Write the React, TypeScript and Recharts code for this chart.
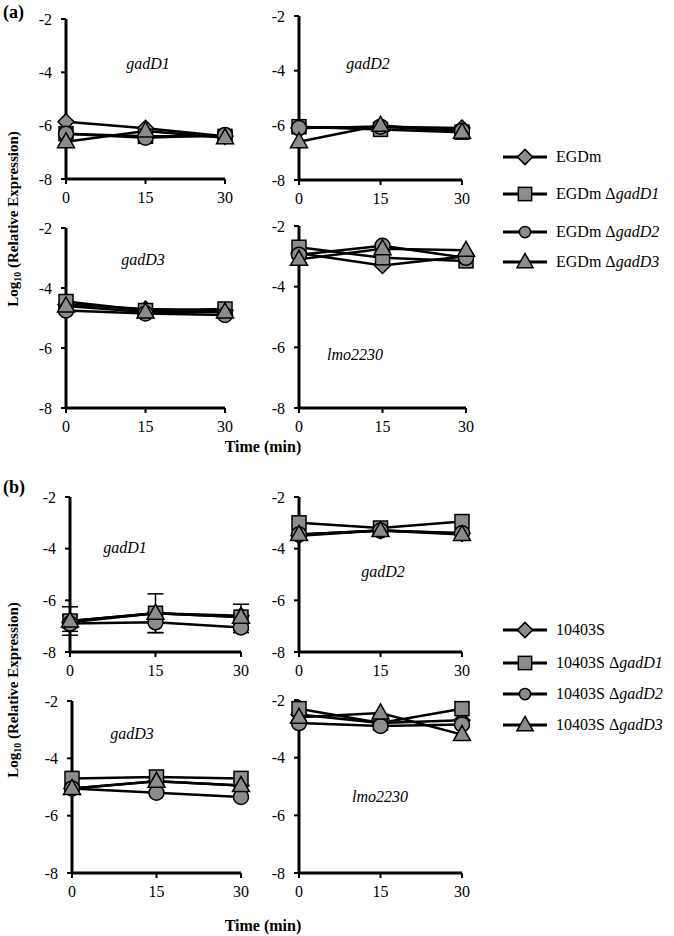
import React from "react";
import { LineChart, Line, XAxis, YAxis, ErrorBar } from "recharts";

const TIMES = [0, 15, 30];
const X_TICKS = [0, 15, 30];
const Y_TICKS = [-8, -6, -4, -2];

// series order: wild type (diamond), ΔgadD1 (square), ΔgadD2 (circle), ΔgadD3 (triangle)
const A_GADD1 = [
  [-5.85, -6.1, -6.4],
  [-6.3, -6.4, -6.4],
  [-6.3, -6.45, -6.35],
  [-6.6, -6.2, -6.45],
];
const A_GADD2 = [
  [-6.1, -6.05, -6.1],
  [-6.05, -6.15, -6.25],
  [-6.1, -6.05, -6.2],
  [-6.6, -6.0, -6.25],
];
const A_GADD3 = [
  [-4.55, -4.7, -4.75],
  [-4.45, -4.75, -4.7],
  [-4.75, -4.85, -4.9],
  [-4.6, -4.8, -4.8],
];
const A_LMO = [
  [-2.9, -3.3, -3.0],
  [-2.7, -3.05, -3.15],
  [-2.95, -2.65, -3.05],
  [-3.1, -2.75, -2.8],
];
const B_GADD1 = [
  [-6.85, -6.5, -6.6],
  [-6.8, -6.5, -6.65],
  [-6.9, -6.85, -7.05],
  [-6.8, -6.5, -6.65],
];
const B_GADD1_ERR_CIRCLE = [0.3, 0.4, 0.2];
const B_GADD1_ERR_TRIANGLE = [0.55, 0.75, 0.5];
const B_GADD2 = [
  [-3.5, -3.3, -3.4],
  [-3.0, -3.2, -2.95],
  [-3.45, -3.3, -3.4],
  [-3.45, -3.3, -3.45],
];
const B_GADD3 = [
  [-5.05, -4.8, -4.95],
  [-4.7, -4.65, -4.7],
  [-5.05, -5.2, -5.35],
  [-5.05, -4.8, -4.95],
];
const B_LMO = [
  [-2.5, -2.8, -2.7],
  [-2.3, -2.8, -2.3],
  [-2.8, -2.9, -2.85],
  [-2.6, -2.45, -3.2],
];

const SHAPES = ["diamond", "square", "circle", "triangle"];
const LEGEND_A_PREFIX = ["EGDm", "EGDm Δ", "EGDm  Δ", "EGDm Δ"];
const LEGEND_B_PREFIX = ["10403S", "10403S Δ", "10403S  Δ", "10403S Δ"];
const LEGEND_GENE = ["", "gadD1", "gadD2", "gadD3"];

const FILL = "#8c8c8c";
const FONT = '"Liberation Serif", "Times New Roman", serif';

function Marker({ cx, cy, shape, s = 1 }: { cx: number; cy: number; shape: string; s?: number }) {
  const common = { fill: FILL, stroke: "#000", strokeWidth: 1.5 };
  if (shape === "diamond") {
    const d = 8 * s;
    return <polygon points={`${cx},${cy - d} ${cx + d},${cy} ${cx},${cy + d} ${cx - d},${cy}`} {...common} />;
  }
  if (shape === "square") {
    const h = 7 * s;
    return <rect x={cx - h} y={cy - h} width={2 * h} height={2 * h} {...common} />;
  }
  if (shape === "circle") {
    return <circle cx={cx} cy={cy} r={7.5 * s} {...common} />;
  }
  const w = 8.5 * s;
  return <polygon points={`${cx},${cy - 9 * s} ${cx + w},${cy + 6 * s} ${cx - w},${cy + 6 * s}`} {...common} />;
}

type PanelProps = {
  series: number[][];
  errors?: (number[] | null)[];
  x0: number;
  x30: number;
  yTop: number;
  yBot: number;
  label: string;
  lx: number;
  ly: number;
};

const YW = 50;
const MT = 10;
const MR = 15;
const XH = 32;

function Panel({ series, errors, x0, x30, yTop, yBot, label, lx, ly }: PanelProps) {
  const data = TIMES.map((t, i) => {
    const r: any = { t };
    series.forEach((s, k) => {
      r["s" + k] = s[i];
    });
    if (errors) {
      errors.forEach((e, k) => {
        if (e) r["e" + k] = e[i];
      });
    }
    return r;
  });
  const left = x0 - YW;
  const top = yTop - MT;
  const width = YW + (x30 - x0) + MR;
  const height = MT + (yBot - yTop) + XH;
  const tickStyle = { fill: "#000", fontSize: 16, fontFamily: FONT };
  return (
    <div style={{ position: "absolute", left, top, width, height }}>
      <LineChart width={width} height={height} data={data} margin={{ top: MT, right: MR, bottom: 0, left: 0 }}>
        <XAxis
          dataKey="t"
          type="number"
          domain={[0, 30]}
          ticks={X_TICKS}
          height={XH}
          axisLine={{ stroke: "#000", strokeWidth: 3 }}
          tickLine={{ stroke: "#000", strokeWidth: 2 }}
          tickSize={5}
          tickMargin={8}
          tick={tickStyle}
        />
        <YAxis
          type="number"
          domain={[-8, -2]}
          ticks={Y_TICKS}
          width={YW}
          axisLine={{ stroke: "#000", strokeWidth: 3 }}
          tickLine={{ stroke: "#000", strokeWidth: 2 }}
          tickSize={5}
          tickMargin={9}
          tick={tickStyle}
          interval={0}
        />
        {series.map((_, k) => (
          <Line
            key={k}
            dataKey={"s" + k}
            type="linear"
            stroke="#000"
            strokeWidth={2.5}
            isAnimationActive={false}
            dot={(p: any) => <Marker key={"d" + k + "-" + p.index} cx={p.cx} cy={p.cy} shape={SHAPES[k]} />}
            activeDot={false}
          >
            {errors && errors[k] ? (
              <ErrorBar dataKey={"e" + k} width={8} stroke="#000" strokeWidth={1.5} direction="y" />
            ) : null}
          </Line>
        ))}
      </LineChart>
      <div
        style={{
          position: "absolute",
          left: lx - left,
          top: ly - top,
          transform: "translate(-50%, -50%)",
          fontFamily: FONT,
          fontStyle: "italic",
          fontSize: 16,
          whiteSpace: "nowrap",
        }}
      >
        {label}
      </div>
    </div>
  );
}

function Legend({ prefixes, ys, left }: { prefixes: string[]; ys: number[]; left: number }) {
  return (
    <svg style={{ position: "absolute", left, top: ys[0] - 15 }} width={674 - left} height={ys[3] - ys[0] + 30}>
      {prefixes.map((p, k) => {
        const y = ys[k] - ys[0] + 15;
        return (
          <g key={k}>
            <line x1={8} x2={52} y1={y} y2={y} stroke="#000" strokeWidth={3} />
            <Marker cx={30} cy={y} shape={SHAPES[k]} s={k === 2 ? 0.75 : 0.95} />
            <text x={61} y={y + 5} fontFamily={FONT} fontSize={16} fill="#000">
              {p}
              {LEGEND_GENE[k] ? <tspan fontStyle="italic">{LEGEND_GENE[k]}</tspan> : null}
            </text>
          </g>
        );
      })}
    </svg>
  );
}

function AxisTitles({ cy, timeY }: { cy: number; timeY: number }) {
  return (
    <>
      <svg style={{ position: "absolute", left: 0, top: cy - 140 }} width={30} height={280}>
        <text
          transform="translate(18,140) rotate(-90)"
          textAnchor="middle"
          fontFamily={FONT}
          fontWeight="bold"
          fontSize={15}
          fill="#000"
        >
          Log
          <tspan fontSize={10} dy={3}>10</tspan>
          <tspan dy={-3}> (Relative Expression)</tspan>
        </text>
      </svg>
      <div
        style={{
          position: "absolute",
          left: 263,
          top: timeY,
          transform: "translate(-50%, -50%)",
          fontFamily: FONT,
          fontWeight: "bold",
          fontSize: 16,
          whiteSpace: "nowrap",
        }}
      >
        Time (min)
      </div>
    </>
  );
}

export default function App() {
  return (
    <div style={{ position: "absolute", left: 0, top: 0, width: 674, height: 936, background: "#fff", fontFamily: FONT }}>
      <div style={{ position: "absolute", left: 3, top: 2, fontFamily: FONT, fontWeight: "bold", fontSize: 18 }}>(a)</div>
      <div style={{ position: "absolute", left: 3, top: 477, fontFamily: FONT, fontWeight: "bold", fontSize: 18 }}>(b)</div>

      <Panel series={A_GADD1} x0={66} x30={225} yTop={19} yBot={179} label="gadD1" lx={148} ly={64} />
      <Panel series={A_GADD2} x0={299} x30={462} yTop={16} yBot={180} label="gadD2" lx={368} ly={64} />
      <Panel series={A_GADD3} x0={66} x30={225} yTop={228} yBot={408} label="gadD3" lx={143} ly={260} />
      <Panel series={A_LMO} x0={299} x30={466} yTop={226} yBot={408} label="lmo2230" lx={355} ly={355} />

      <Panel
        series={B_GADD1}
        errors={[null, null, B_GADD1_ERR_CIRCLE, B_GADD1_ERR_TRIANGLE]}
        x0={70}
        x30={241}
        yTop={497}
        yBot={652}
        label="gadD1"
        lx={125}
        ly={548}
      />
      <Panel series={B_GADD2} x0={299} x30={462} yTop={497} yBot={652} label="gadD2" lx={383} ly={572} />
      <Panel series={B_GADD3} x0={72} x30={241} yTop={701} yBot={873} label="gadD3" lx={132} ly={734} />
      <Panel series={B_LMO} x0={299} x30={462} yTop={700} yBot={873} label="lmo2230" lx={380} ly={797} />

      <Legend prefixes={LEGEND_A_PREFIX} ys={[157, 194, 232, 262]} left={495} />
      <Legend prefixes={LEGEND_B_PREFIX} ys={[630, 663, 694, 725]} left={495} />

      <AxisTitles cy={219} timeY={447} />
      <AxisTitles cy={690} timeY={926} />
    </div>
  );
}
